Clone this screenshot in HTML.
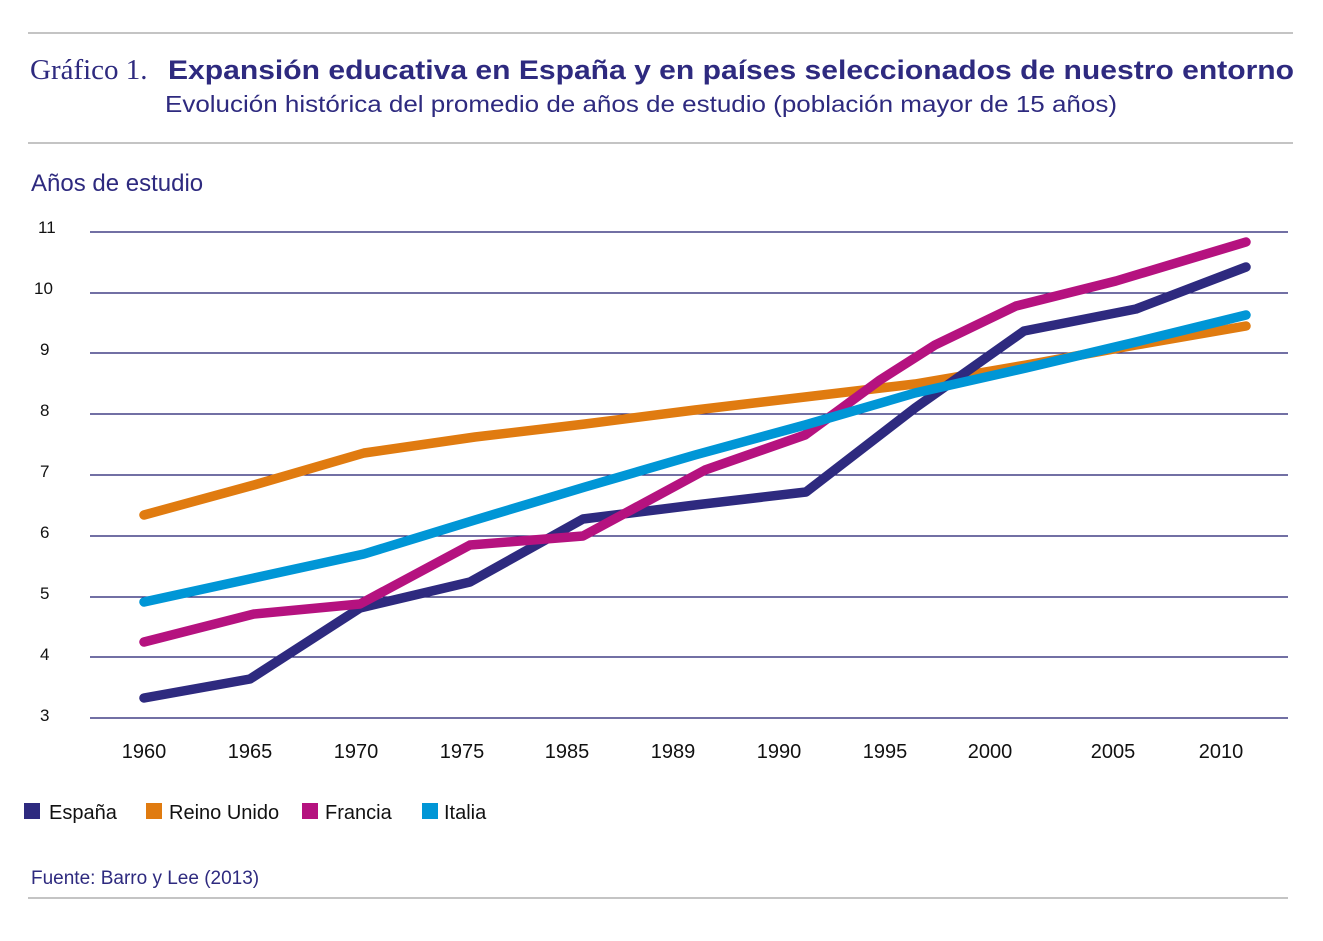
<!DOCTYPE html>
<html><head><meta charset="utf-8"><style>
body{margin:0;background:#fff;}
svg{display:block;font-family:"Liberation Sans",sans-serif;}
</style></head><body>
<svg width="1323" height="941" viewBox="0 0 1323 941">
<line x1="28" y1="33" x2="1293" y2="33" stroke="#888" stroke-width="1"/>
<line x1="28" y1="143" x2="1293" y2="143" stroke="#888" stroke-width="1"/>
<line x1="28" y1="898" x2="1288" y2="898" stroke="#888" stroke-width="1"/>
<text x="30" y="79" fill="#2e2a7f" font-size="29" font-family="Liberation Serif,serif">Gráfico 1.</text>
<text x="168" y="79" fill="#2e2a7f" font-size="27" font-weight="bold" textLength="1126" lengthAdjust="spacingAndGlyphs">Expansión educativa en España y en países seleccionados de nuestro entorno</text>
<text x="165" y="112" fill="#2e2a7f" font-size="23" textLength="952" lengthAdjust="spacingAndGlyphs">Evolución histórica del promedio de años de estudio (población mayor de 15 años)</text>
<text x="31" y="191" fill="#2e2a7f" font-size="24">Años de estudio</text>
<g stroke="#1f1a6e" stroke-width="1.3">
<line x1="90" y1="232" x2="1288" y2="232"/><line x1="90" y1="293" x2="1288" y2="293"/>
<line x1="90" y1="353" x2="1288" y2="353"/><line x1="90" y1="414" x2="1288" y2="414"/>
<line x1="90" y1="475" x2="1288" y2="475"/><line x1="90" y1="536" x2="1288" y2="536"/>
<line x1="90" y1="597" x2="1288" y2="597"/><line x1="90" y1="657" x2="1288" y2="657"/>
<line x1="90" y1="718" x2="1288" y2="718"/>
</g>
<g fill="#111" font-size="17">
<text x="38" y="233">11</text><text x="34" y="294">10</text><text x="40" y="355">9</text>
<text x="40" y="416">8</text><text x="40" y="477">7</text><text x="40" y="538">6</text>
<text x="40" y="599">5</text><text x="40" y="660">4</text><text x="40" y="721">3</text>
</g>
<g fill="#111" font-size="20" text-anchor="middle">
<text x="144" y="758">1960</text><text x="250" y="758">1965</text><text x="356" y="758">1970</text>
<text x="462" y="758">1975</text><text x="567" y="758">1985</text><text x="673" y="758">1989</text>
<text x="779" y="758">1990</text><text x="885" y="758">1995</text><text x="990" y="758">2000</text>
<text x="1113" y="758">2005</text><text x="1221" y="758">2010</text>
</g>
<g fill="none" stroke-width="9.5" stroke-linejoin="round" stroke-linecap="round">
<polyline stroke="#e07b10" points="144,515 254,485 364,453 475,437 585,424 695,410 805,397 915,384 1026,365 1136,345 1246,326"/>
<polyline stroke="#2e2a7f" points="144,698 250,679 360,608 470,582 583,519 695,505 806,492 915,408 1024,331 1136,309 1246,267"/>
<polyline stroke="#b5127f" points="144,642 254,614 360,604 470,545 583,536 705,470 805,435 880,380 935,345 1016,306 1116,281 1246,242"/>
<polyline stroke="#0096d6" points="144,602 254,578 364,554 475,520 585,487 695,455 805,425 915,393 1026,368 1136,342 1246,315"/>
</g>
<g font-size="20" fill="#111">
<rect x="24" y="803" width="16" height="16" fill="#2e2a7f"/><text x="49" y="819">España</text>
<rect x="146" y="803" width="16" height="16" fill="#e07b10"/><text x="169" y="819">Reino Unido</text>
<rect x="302" y="803" width="16" height="16" fill="#b5127f"/><text x="325" y="819">Francia</text>
<rect x="422" y="803" width="16" height="16" fill="#0096d6"/><text x="444" y="819">Italia</text>
</g>
<text x="31" y="884" fill="#2e2a7f" font-size="19">Fuente: Barro y Lee (2013)</text>
</svg>
</body></html>
